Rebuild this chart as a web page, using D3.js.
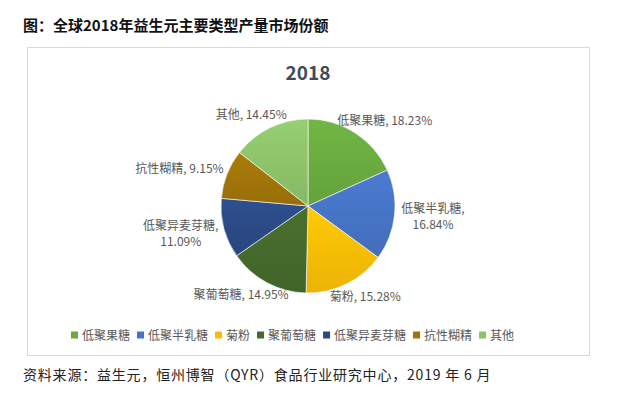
<!DOCTYPE html>
<html>
<head>
<meta charset="utf-8">
<script src="https://cdn.jsdelivr.net/npm/d3@7"></script>
<style>
  html, body { margin: 0; padding: 0; background: #fff; }
  svg text { font-family: "Noto Sans CJK SC", "Noto Sans", sans-serif; }
</style>
</head>
<body>
<svg id="chart" width="640" height="398"></svg>
<script>
// chart data
const categories = ['低聚果糖', '低聚半乳糖', '菊粉', '聚葡萄糖', '低聚异麦芽糖', '抗性糊精', '其他'];
const shares = [18.23, 16.84, 15.28, 14.95, 11.09, 9.15, 14.45];
const colors = ['#6aab40', '#4673c4', '#f9bd05', '#45692c', '#2b4a85', '#a0740a', '#8dc26a'];
const chartTitle = '2018';
const heading = '图：全球2018年益生元主要类型产量市场份额';
const source = '资料来源：益生元，恒州博智（QYR）食品行业研究中心，2019 年 6 月';

const svg = d3.select('#chart');

// figure heading + source line
svg.append('text')
  .attr('x', 23).attr('y', 31)
  .attr('font-size', 15).attr('font-weight', 700)
  .attr('fill', '#111')
  .text(heading);

svg.append('text')
  .attr('x', 23).attr('y', 380)
  .attr('font-size', 14)
  .attr('letter-spacing', 0.8)
  .attr('fill', '#222')
  .text(source);

// chart frame
const box = { x: 27, y: 47, w: 562, h: 308 };
svg.append('rect')
  .attr('x', box.x + 0.5).attr('y', box.y + 0.5)
  .attr('width', box.w).attr('height', box.h)
  .attr('fill', '#fff')
  .attr('stroke', '#d9d9d9');

svg.append('text')
  .attr('x', 308).attr('y', 80)
  .attr('text-anchor', 'middle')
  .attr('font-size', 19).attr('font-weight', 700)
  .attr('fill', '#404a5a')
  .text(chartTitle);

// pie
const cx = 308, cy = 206, r = 87;
const data = categories.map((c, i) => ({ name: c, value: shares[i], color: colors[i] }));

const pie = d3.pie().value(d => d.value).sort(null);
const arc = d3.arc().innerRadius(0).outerRadius(r);
const arcs = pie(data);

const defs = svg.append('defs');
arcs.forEach((a, i) => {
  const g = defs.append('linearGradient')
    .attr('id', 'grad' + i)
    .attr('x1', 0).attr('y1', 0).attr('x2', 0).attr('y2', 1);
  const c = d3.color(a.data.color);
  g.append('stop').attr('offset', '0%').attr('stop-color', c.brighter(0.18));
  g.append('stop').attr('offset', '100%').attr('stop-color', c.darker(0.15));
});

const pieG = svg.append('g').attr('transform', `translate(${cx},${cy})`);

pieG.selectAll('path')
  .data(arcs)
  .join('path')
  .attr('d', arc)
  .attr('fill', (d, i) => `url(#grad${i})`)
  .attr('stroke', '#fff')
  .attr('stroke-width', 0.6);

// data labels, placed outside the slice (best fit style)
const labelR = r + 7;
const lineH = 16;
pieG.selectAll('g.label')
  .data(arcs)
  .join('g')
  .attr('class', 'label')
  .each(function(d) {
    const g = d3.select(this);
    const mid = (d.startAngle + d.endAngle) / 2;
    const s = Math.sin(mid), c = Math.cos(mid);
    const pct = d.data.value.toFixed(2) + '%';
    const t = g.append('text')
      .attr('font-size', 12)
      .attr('fill', '#595959')
      .attr('text-anchor', 'middle');

    let lines = [d.data.name + ', ' + pct];
    t.text(lines[0]);
    let w = t.node().getComputedTextLength();
    if (w > 100) lines = [d.data.name + ',', pct];
    t.text(null);
    lines.forEach((ln, i) => {
      t.append('tspan').attr('x', 0).attr('dy', i === 0 ? 0 : lineH).text(ln);
    });
    w = d3.max(t.selectAll('tspan').nodes(), n => n.getComputedTextLength());
    const h = lines.length === 1 ? 14 : 14 + lineH;

    const px = labelR * s, py = -labelR * c;
    const lx = px + s * w / 2;
    const ly = py - c * h / 2;
    // baseline of first line
    const y0 = ly - h / 2 + 11;
    t.attr('transform', `translate(${lx},${y0})`);
  });

// legend
const legend = svg.append('g').attr('transform', 'translate(71,335)');
let lx = 0;
data.forEach(d => {
  const item = legend.append('g').attr('transform', `translate(${lx},0)`);
  item.append('rect')
    .attr('x', 0).attr('y', -3.5)
    .attr('width', 7).attr('height', 7)
    .attr('fill', d.color);
  const txt = item.append('text')
    .attr('x', 11).attr('y', 4.5)
    .attr('font-size', 12)
    .attr('fill', '#595959')
    .text(d.name);
  lx += 11 + txt.node().getComputedTextLength() + 7;
});
</script>
</body>
</html>
